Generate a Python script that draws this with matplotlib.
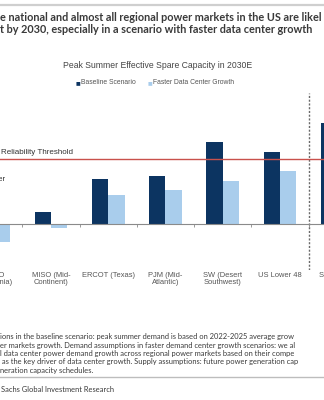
import matplotlib.pyplot as plt
import numpy as np

W, H = 324, 400

# data (effective spare capacity, %)
markets = ["CAISO\n(California)", "MISO (Mid-\nContinent)", "ERCOT (Texas)",
           "PJM (Mid-\nAtlantic)", "SW (Desert\nSouthwest)", "US Lower 48",
           "SE (South-\neast)"]
baseline = [-6.0, 2.8, 10.3, 11.1, 18.8, 16.5, 23.2]
faster_dc = [-4.1, -1.0, 6.6, 7.7, 9.9, 12.2, 14.0]
threshold = 15.0

title_lines = ["e national and almost all regional power markets in the US are likel",
               "t by 2030, especially in a scenario with faster data center growth"]
note_lines = ["ions in the baseline scenario: peak summer demand is based on 2022-2025 average grow",
              "er markets growth. Demand assumptions in faster demand center growth scenarios: we al",
              "l data center power demand growth across regional power markets based on their compe",
              " as the key driver of data center growth. Supply assumptions: future power generation cap",
              "neration capacity schedules."]
source = "Sachs Global Investment Research"

DARK = "#0c3461"
LIGHT = "#a9cdec"
RED = "#c9514c"


def fx(px):
    return px / W


def fy(py):
    return 1 - py / H


fig = plt.figure(figsize=(W / 100, H / 100), dpi=100)
fig.patch.set_facecolor("white")

# top rule and source rule
fig.add_artist(plt.Line2D([0, 1], [fy(5), fy(5)], color="#cfcfcf", lw=1.6))
fig.add_artist(plt.Line2D([0, 1], [fy(377), fy(377)], color="#bdbdbd", lw=1.0))

# headline
for k, line in enumerate(title_lines):
    fig.text(fx(0), fy(17.5 + 12 * k), line, fontsize=7.85, fontweight="bold",
             family="Lato", color="#3a3a3a", ha="left", va="center")

# chart title + legend
fig.text(fx(158), fy(65), "Peak Summer Effective Spare Capacity in 2030E",
         fontsize=6.2, family="Liberation Sans", color="#444444", ha="center", va="center")
fig.text(fx(76), fy(83), "\u25a0", fontsize=3.6, color=DARK, ha="left", va="center")
fig.text(fx(81), fy(83), "Baseline Scenario", fontsize=4.9, family="Liberation Sans",
         color="#555555", ha="left", va="center")
fig.text(fx(148), fy(83), "\u25a0", fontsize=3.6, color=LIGHT, ha="left", va="center")
fig.text(fx(153), fy(83), "Faster Data Center Growth", fontsize=4.9, family="Liberation Sans",
         color="#555555", ha="left", va="center")

# axes in pixel frame: top 93, bottom 270, full width
ax = fig.add_axes([0, fy(270), 1, (270 - 93) / H])
x = np.arange(len(markets))
bw = 0.285
ax.bar(x - bw / 2, baseline, width=bw, color=DARK, zorder=2)
ax.bar(x + bw / 2, faster_dc, width=bw, color=LIGHT, zorder=2)
ax.axhline(threshold, color=RED, lw=1.0, zorder=3)
ax.axvline(5.5, color="#6a6a6a", lw=1.0, ls=(0, (1.5, 1.2)), zorder=1)

ax.set_xlim(0.11, 5.77)
ax.set_ylim(-10.6, 30.1)
for s in ["top", "right", "left"]:
    ax.spines[s].set_visible(False)
ax.spines["bottom"].set_position(("data", 0))
ax.spines["bottom"].set_color("#8a8a8a")
ax.spines["bottom"].set_linewidth(0.8)
ax.set_yticks([])
ax.set_xticks(x[:-1] + 0.5)
ax.set_xticklabels([])
ax.tick_params(axis="x", length=2, width=0.6, color="#8a8a8a", direction="out")
ax.patch.set_alpha(0)

ax.text(0.12, threshold + 0.6, "Reliability Threshold", fontsize=5.8,
        family="Liberation Sans", color="#333333", ha="left", va="bottom")
ax.text(0.20, 10.2, "Buffer", fontsize=5.8, family="Liberation Sans",
        color="#333333", ha="right", va="center")

# category labels under the plot
for i, name in enumerate(markets):
    cx = -6.3 + 57.25 * i
    fig.text(fx(cx), fy(272), name, fontsize=5.4, family="Liberation Sans",
             color="#555555", ha="center", va="top", linespacing=1.1)

# footnote
for k, line in enumerate(note_lines):
    fig.text(fx(0), fy(337 + 8.3 * k), line, fontsize=5.45, family="Lato",
             color="#3a3a3a", ha="left", va="center")
fig.text(fx(1), fy(389), source, fontsize=5.45, family="Lato",
         color="#3a3a3a", ha="left", va="center")

fig.savefig("out.png", dpi=100)
